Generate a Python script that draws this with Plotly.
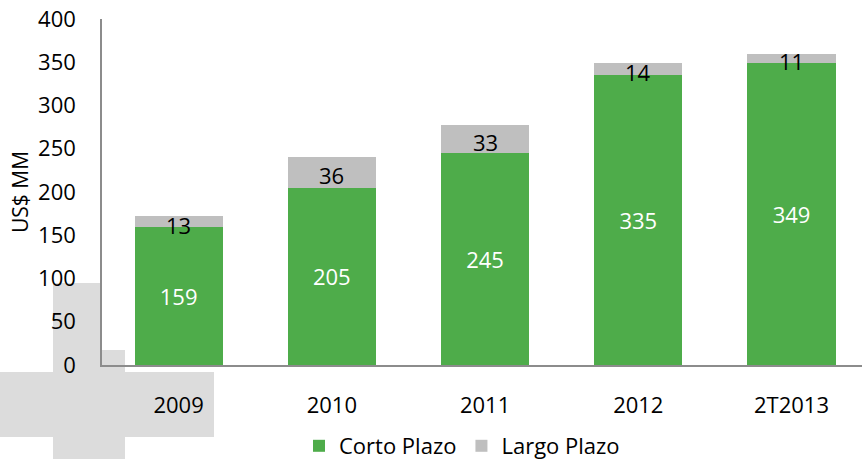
import plotly.graph_objects as go

categories = ["2009", "2010", "2011", "2012", "2T2013"]
corto_plazo = [159, 205, 245, 335, 349]
largo_plazo = [13, 36, 33, 14, 11]
y_ticks = [0, 50, 100, 150, 200, 250, 300, 350, 400]

GREEN = "#4EAC4A"
GRAY = "#BFBFBF"
CROSS = "#DCDCDC"
FONT = "Open Sans"
FS = 22

W, H = 862, 459
L, R, T, B = 102, 0, 19, 94
PW = W - L - R
PH = H - T - B


def px_x(p):
    return (p - L) / PW


def px_y(p):
    return (H - B - p) / PH


fig = go.Figure()
fig.add_trace(go.Bar(
    x=categories, y=corto_plazo, name="Corto Plazo",
    marker=dict(color=GREEN, line=dict(width=0)),
    text=[str(v) for v in corto_plazo], textposition="inside",
    insidetextanchor="middle", constraintext="none",
    textfont=dict(color="white", size=FS, family=FONT),
    hoverinfo="skip",
))
fig.add_trace(go.Bar(
    x=categories, y=largo_plazo, name="Largo Plazo",
    marker=dict(color=GRAY, line=dict(width=0)),
    hoverinfo="skip",
))

# labels for the top segment, centered on each segment
annotations = []
for i, (c, l) in enumerate(zip(corto_plazo, largo_plazo)):
    annotations.append(dict(x=i, y=c + l / 2, xref="x", yref="y",
                            text=str(l), showarrow=False, yshift=-3,
                            font=dict(color="black", size=FS, family=FONT)))

# decorative light-gray cross in the lower left
cross_rects = [
    (53, 283, 102, 459),
    (102, 350, 125, 459),
    (0, 372, 214, 437),
]
shapes = []
for x0, y0, x1, y1 in cross_rects:
    shapes.append(dict(type="rect", xref="paper", yref="paper",
                       x0=px_x(x0), x1=px_x(x1), y0=px_y(y1), y1=px_y(y0),
                       fillcolor=CROSS, line=dict(width=0), layer="below"))

fig.update_layout(
    width=W, height=H,
    margin=dict(l=L, r=R, t=T, b=B, pad=0, autoexpand=False),
    paper_bgcolor="white", plot_bgcolor="rgba(0,0,0,0)",
    barmode="stack", bargap=0.425,
    font=dict(family=FONT, size=FS, color="black"),
    shapes=shapes,
    annotations=annotations,
    showlegend=True,
    legend=dict(orientation="h", xref="container", yref="container",
                x=462 / W, y=1 - 446 / H,
                xanchor="center", yanchor="middle",
                font=dict(size=FS, family=FONT), traceorder="normal",
                itemwidth=30, bgcolor="rgba(0,0,0,0)"),
    xaxis=dict(type="category", range=[-0.5, 4.46], showgrid=False,
               zeroline=False,
               showline=True, linecolor="#8C8C8C", linewidth=1.5,
               ticks="", ticklabelstandoff=20, automargin=False,
               tickfont=dict(size=FS, family=FONT)),
    yaxis=dict(range=[0, 400], tickvals=y_ticks, showgrid=False,
               zeroline=False, showline=True, linecolor="#8C8C8C",
               linewidth=1.5, ticks="", ticklabelstandoff=20,
               automargin=False,
               tickfont=dict(size=FS, family=FONT),
               title=dict(text="US$ MM", standoff=4,
                          font=dict(size=21, family=FONT))),
)

fig.write_html("out.html",
               config={"displayModeBar": False},
               post_script="document.body.style.margin='0';"
                           "document.body.style.overflow='hidden';")
